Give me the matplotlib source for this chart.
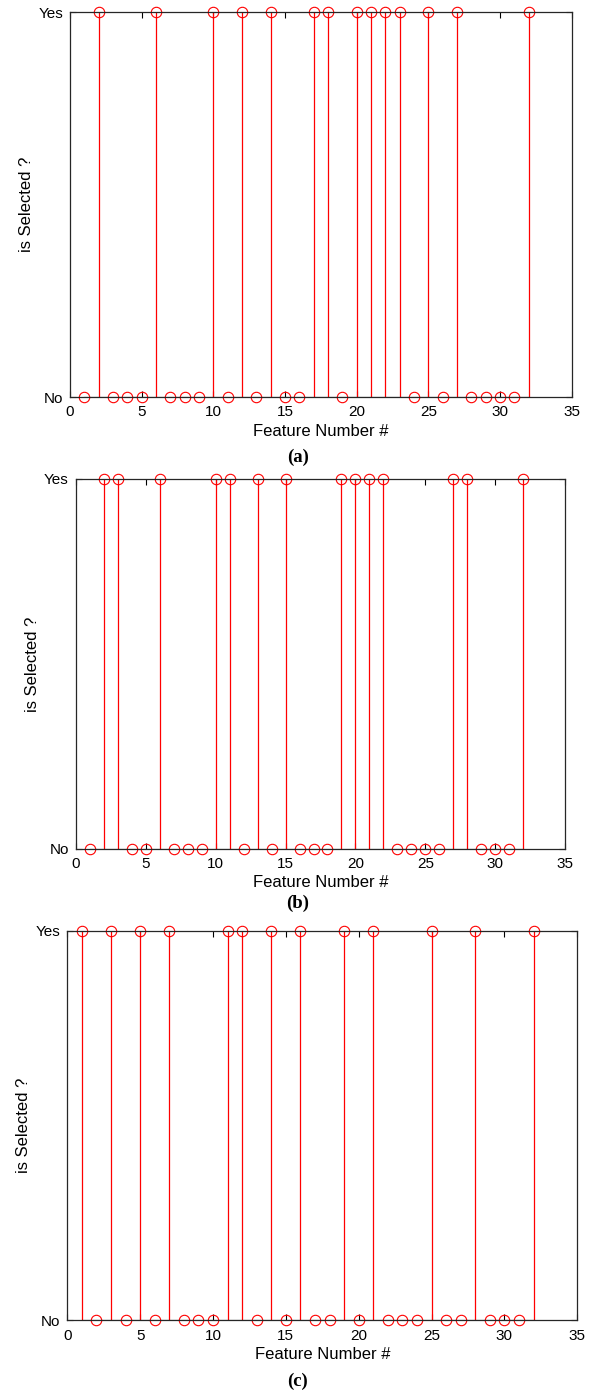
import numpy as np
import matplotlib
matplotlib.use("Agg")
import matplotlib.pyplot as plt

plt.rcParams['font.family'] = ['Liberation Sans', 'DejaVu Sans']

# feature indices
features = np.arange(1, 33)

# selected features (Yes = 1) for each panel
selected_a = [2, 6, 10, 12, 14, 17, 18, 20, 21, 22, 23, 25, 27, 32]
selected_b = [2, 3, 6, 10, 11, 13, 15, 19, 20, 21, 22, 27, 28, 32]
selected_c = [1, 3, 5, 7, 11, 12, 14, 16, 19, 21, 25, 28, 32]

panel_labels = ['(a)', '(b)', '(c)']
xticks = [0, 5, 10, 15, 20, 25, 30, 35]
ytick_labels = ['No', 'Yes']

W, H = 592, 1399
fig = plt.figure(figsize=(W / 100, H / 100), dpi=100)

# axes boxes in pixels: left, right, top, bottom
boxes = [(70, 571.7, 12, 397),
         (75.7, 565.3, 479, 848.7),
         (67.3, 577.3, 930.7, 1320.3)]
caption_y = [457, 903, 1381]

for sel, box, lab, cy in zip([selected_a, selected_b, selected_c], boxes, panel_labels, caption_y):
    l, r, t, b = box
    ax = fig.add_axes([l / W, 1 - b / H, (r - l) / W, (b - t) / H])
    vals = np.isin(features, sel).astype(int)

    ml, sl, bl = ax.stem(features, vals, linefmt='r-', markerfmt='ro', basefmt='k-')
    ml.set_markerfacecolor('none')
    ml.set_markeredgecolor('red')
    ml.set_markersize(7.5)
    ml.set_markeredgewidth(0.8)
    ml.set_clip_on(False)
    sl.set_linewidth(0.9)
    bl.set_linewidth(0.8)

    ax.set_xlim(0, 35)
    ax.set_ylim(0, 1)
    ax.set_xticks(xticks)
    ax.set_yticks([0, 1])
    ax.set_yticklabels(ytick_labels)
    ax.tick_params(direction='in', top=True, right=True, labelsize=11, length=4, width=0.8)
    ax.tick_params(axis='x', pad=6)
    ax.tick_params(axis='y', pad=5)
    for s in ax.spines.values():
        s.set_linewidth(0.9)
        s.set_color('#262626')
    ax.set_xlabel('Feature Number #', fontsize=12, labelpad=3)
    ax.set_ylabel('is Selected ?', fontsize=12, labelpad=3)

    fig.text(298 / W, 1 - cy / H, lab, ha='center', va='center', fontsize=13.5,
             fontweight='bold', family=['Liberation Serif', 'DejaVu Serif'])

fig.savefig('out.png', dpi=100)
